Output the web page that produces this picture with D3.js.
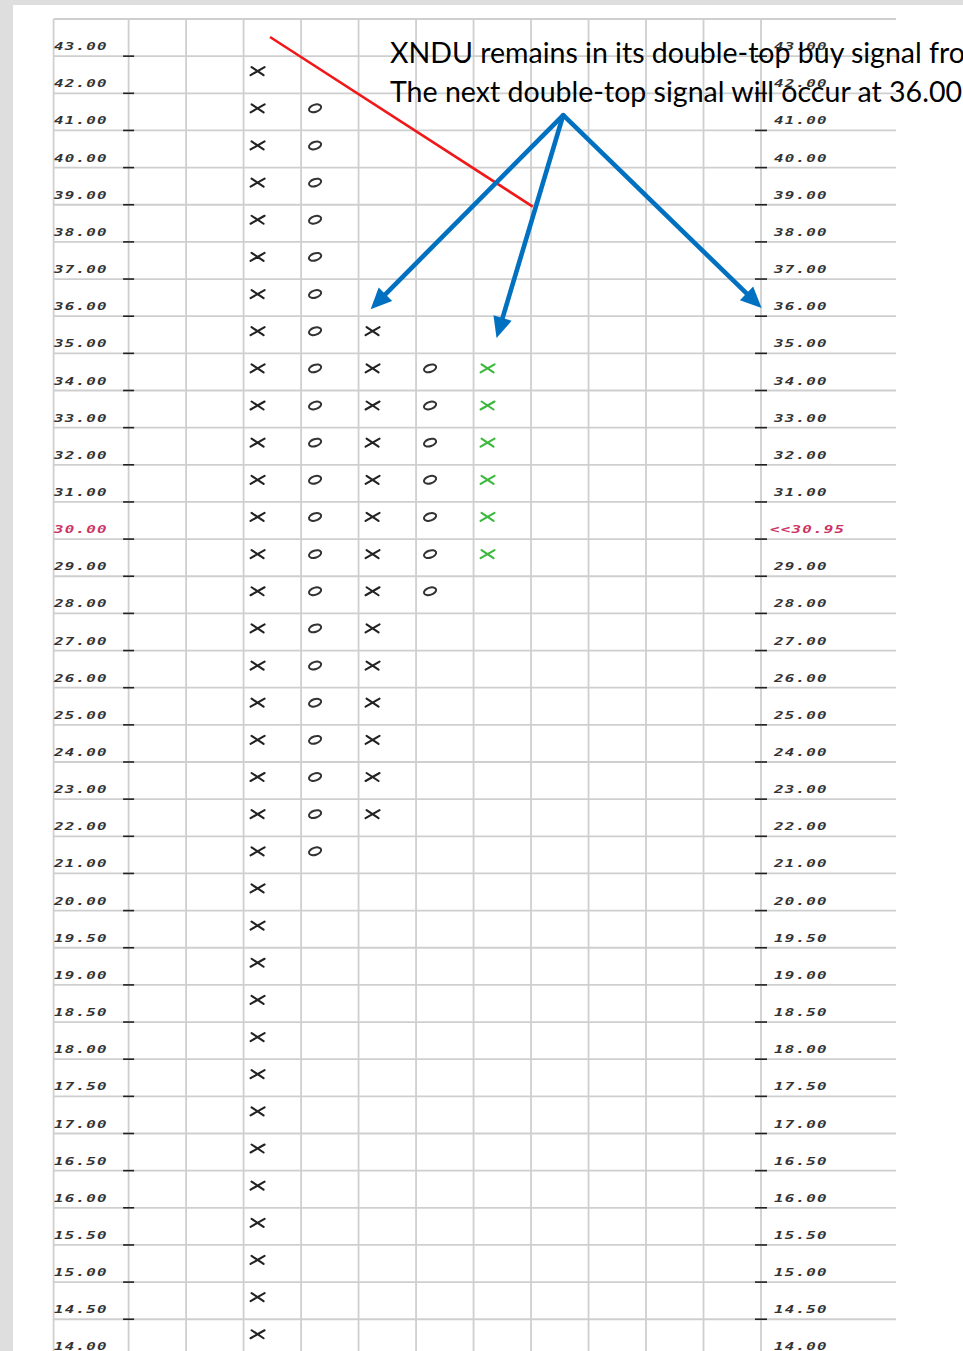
<!DOCTYPE html>
<html>
<head>
<meta charset="utf-8">
<script src="https://cdn.jsdelivr.net/npm/d3@7"></script>
<style>
  html, body { margin: 0; padding: 0; background: #dedede; overflow: hidden; }
  svg { display: block; }
</style>
</head>
<body>
<script>
// ---------------- data ----------------
const priceLevels = ["43.00","42.00","41.00","40.00","39.00","38.00","37.00","36.00","35.00","34.00",
  "33.00","32.00","31.00","30.00","29.00","28.00","27.00","26.00","25.00","24.00","23.00","22.00",
  "21.00","20.00","19.50","19.00","18.50","18.00","17.50","17.00","16.50","16.00","15.50","15.00",
  "14.50","14.00"];
const rightLabels = ["43.00","42.00","41.00","40.00","39.00","38.00","37.00","36.00","35.00","34.00",
  "33.00","32.00","31.00","<<30.95","29.00","28.00","27.00","26.00","25.00","24.00","23.00","22.00",
  "21.00","20.00","19.50","19.00","18.50","18.00","17.50","17.00","16.50","16.00","15.50","15.00",
  "14.50","14.00"];
const highlightLevel = "30.00";
const boxColumns = [0,1,2,3,4,5,6,7,8,9,10];
const columnIndex = [2, 3, 4, 5, 6];
const columnType  = ["X", "O", "X", "O", "X"];
const columnHigh  = [42, 41, 35, 34, 34];
const columnLow   = [14, 21, 22, 28, 29];
const columnColor = ["#222222", "#333333", "#222222", "#333333", "#3cb83c"];
const noteLines = ["XNDU remains in its double-top buy signal fro",
                   "The next double-top signal will occur at 36.00"];
// trend line & arrows in grid-cell units (column, row)
const trendLine = [[2.46, 0.485], [7.03, 5.05]];
const arrowFrom = [7.56, 2.585];
const arrowTips = [[4.21, 7.81], [6.40, 8.59], [11.01, 7.78]];

// ---------------- layout ----------------
const W = 963, H = 1351;
const gridLeft = 53.6, gridRight = 896, gridTop = 19;
const rowH = 37.15;
const colLeft = 128.6, colRight = 761;

const svg = d3.select("body").append("svg").attr("width", W).attr("height", H);
svg.append("rect").attr("x", 0).attr("y", 0).attr("width", W).attr("height", H).attr("fill", "#dedede");
svg.append("rect").attr("x", 13).attr("y", 5).attr("width", W - 13).attr("height", H - 5).attr("fill", "#ffffff");

const y = d3.scaleBand().domain(priceLevels).range([gridTop, gridTop + rowH * priceLevels.length]);
const x = d3.scaleBand().domain(boxColumns).range([colLeft, colRight]);
const cx = d3.scaleLinear().domain([0, boxColumns.length]).range([colLeft, colRight]);
const cy = d3.scaleLinear().domain([0, priceLevels.length]).range(y.range());

// grid
const grid = svg.append("g").attr("stroke", "#cfcfcf").attr("stroke-width", 1.8);
const hLines = priceLevels.map(l => y(l)).concat([y.range()[1]]);
grid.selectAll("line.h").data(hLines).join("line")
  .attr("x1", gridLeft).attr("x2", gridRight).attr("y1", d => d).attr("y2", d => d);
const vLines = [gridLeft].concat(boxColumns.map(c => x(c))).concat([colRight]);
grid.selectAll("line.v").data(vLines).join("line")
  .attr("x1", d => d).attr("x2", d => d).attr("y1", gridTop).attr("y2", H);

// ticks
const ticks = svg.append("g").attr("stroke", "#222").attr("stroke-width", 1.6);
priceLevels.forEach(l => {
  const yy = y(l) + y.bandwidth();
  ticks.append("line").attr("x1", colLeft - 5.5).attr("x2", colLeft + 5.5).attr("y1", yy).attr("y2", yy);
  ticks.append("line").attr("x1", colRight - 6).attr("x2", colRight + 6).attr("y1", yy).attr("y2", yy);
});

// axis labels
function label(g, txt, xx, yy, color) {
  g.append("g").attr("transform", `translate(${xx},${yy}) scale(1.45,1)`)
    .append("text").text(txt)
    .attr("font-family", "DejaVu Sans Mono").attr("font-size", 11)
    .attr("font-weight", "bold").attr("font-style", "italic")
    .attr("letter-spacing", 0.8).attr("fill", color);
}
const labs = svg.append("g");
priceLevels.forEach((l, i) => {
  const yy = y(l) + y.bandwidth() - 6;
  const col = l === highlightLevel ? "#cc3366" : "#333333";
  label(labs, l, 54, yy, col);
  label(labs, rightLabels[i], rightLabels[i].startsWith("<<") ? 770 : 774, yy, col);
});

// X / O marks
const marks = svg.append("g").attr("fill", "none").attr("stroke-linecap", "round");
columnIndex.forEach((c, k) => {
  const cells = priceLevels.filter(l => +l >= columnLow[k] && +l <= columnHigh[k]);
  cells.forEach(l => {
    const px = x(c) + 14, py = y(l) + 15;
    if (columnType[k] === "X") {
      marks.append("path")
        .attr("d", `M${px-6},${py-4}L${px+6},${py+4}M${px-7},${py+4}L${px+7},${py-4}`)
        .attr("stroke", columnColor[k]).attr("stroke-width", 2.1);
    } else {
      marks.append("ellipse").attr("cx", 0).attr("cy", 0).attr("rx", 6.3).attr("ry", 3.6)
        .attr("transform", `translate(${px},${py}) rotate(-18)`)
        .attr("stroke", columnColor[k]).attr("stroke-width", 2);
    }
  });
});

// red trend line
svg.append("line")
  .attr("x1", cx(trendLine[0][0])).attr("y1", cy(trendLine[0][1]))
  .attr("x2", cx(trendLine[1][0])).attr("y2", cy(trendLine[1][1]))
  .attr("stroke", "#f01818").attr("stroke-width", 2.6);

// blue arrows
const blue = "#0070c0";
const arrows = svg.append("g");
const ax0 = cx(arrowFrom[0]), ay0 = cy(arrowFrom[1]);
arrowTips.forEach(t => {
  const tx = cx(t[0]), ty = cy(t[1]);
  const dx = tx - ax0, dy = ty - ay0, len = Math.hypot(dx, dy);
  const ux = dx / len, uy = dy / len;
  const headL = 21, headW = 9.5;
  const bx = tx - ux * headL, by = ty - uy * headL;
  arrows.append("line").attr("x1", ax0).attr("y1", ay0)
    .attr("x2", tx - ux * (headL - 4)).attr("y2", ty - uy * (headL - 4))
    .attr("stroke", blue).attr("stroke-width", 4.6).attr("stroke-linecap", "butt");
  arrows.append("path")
    .attr("d", `M${tx},${ty}L${bx - uy * headW},${by + ux * headW}L${bx + uy * headW},${by - ux * headW}Z`)
    .attr("fill", blue);
});
// joint at apex
arrows.append("circle").attr("cx", ax0).attr("cy", ay0).attr("r", 2.3).attr("fill", blue);

// annotation text
const note = svg.append("g");
note.selectAll("text").data(noteLines).join("text")
  .attr("x", 390).attr("y", (d, i) => 63 + i * 38.5)
  .attr("font-family", "Lato, 'Open Sans', sans-serif").attr("font-size", 28)
  .attr("fill", "#000")
  .attr("textLength", (d, i) => i === 0 ? 575 : 572)
  .attr("lengthAdjust", "spacingAndGlyphs")
  .text(d => d);
</script>
</body>
</html>
